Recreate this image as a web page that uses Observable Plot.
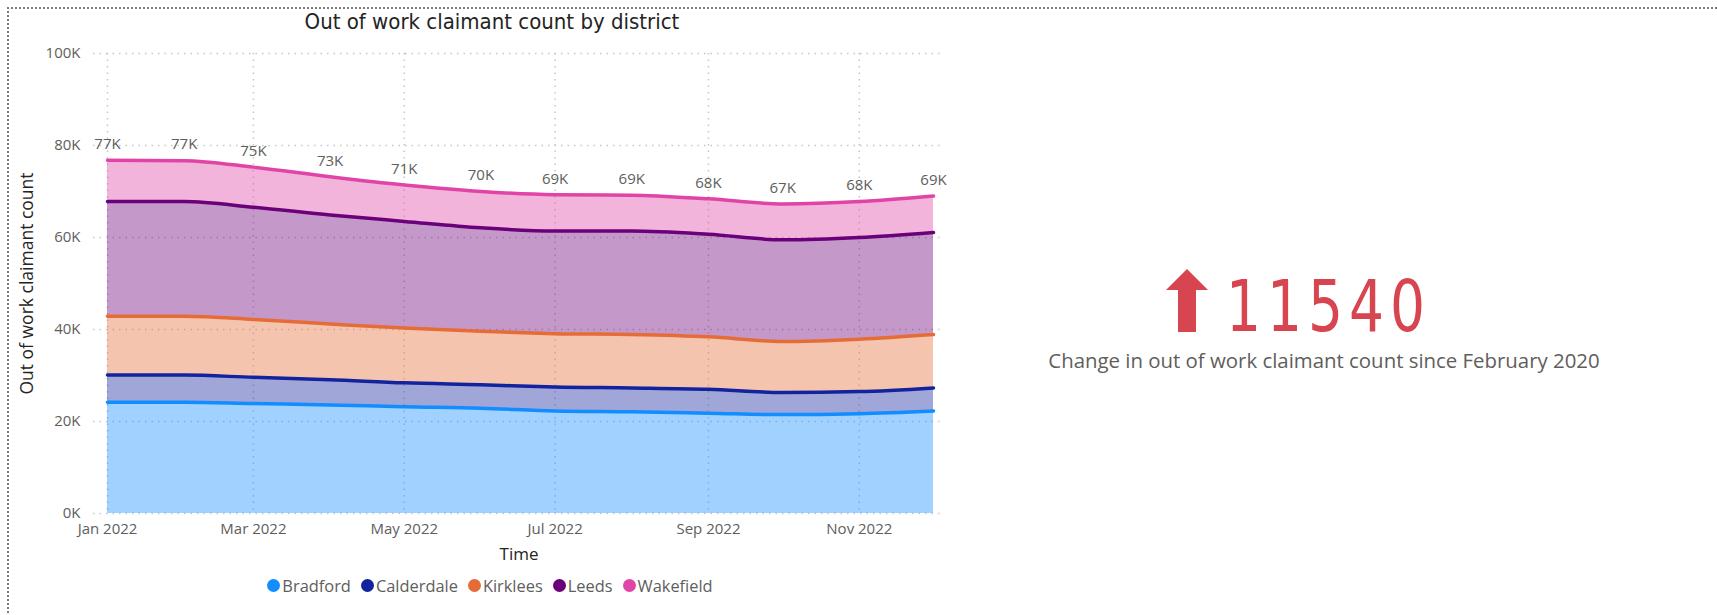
<!DOCTYPE html>
<html>
<head>
<meta charset="utf-8">
<script src="https://cdn.jsdelivr.net/npm/d3@7"></script>
<script src="https://cdn.jsdelivr.net/npm/@observablehq/plot@0.6"></script>
<style>
  html, body { margin: 0; padding: 0; background: #fff; }
  body { width: 1717px; height: 615px; position: relative; overflow: hidden; font-family: "Open Sans", "Noto Sans", sans-serif; }
  #frame { position: absolute; left: 7px; top: 7px; width: 1740px; height: 640px; border-top: 2px dotted #7a7a7a; border-left: 2px dotted #7a7a7a; }
  #title { position: absolute; left: 0; width: 984px; top: 9px; line-height: 26px; text-align: center; font-family: "Liberation Sans Narrow", "DejaVu Sans Condensed", sans-serif; font-size: 22px; color: #252423; }
  #chart { position: absolute; left: 0; top: 30px; }
  #legend { position: absolute; left: 0; width: 980px; top: 574px; display: flex; justify-content: center; align-items: center; font-size: 16.4px; color: #605E5C; }
  #legend .item { display: flex; align-items: center; margin: 0 5px; }
  #legend .dot { width: 13px; height: 13px; border-radius: 50%; margin-right: 2px; }
  #kpi-arrow { position: absolute; left: 1166px; top: 269px; }
  #kpi-value { position: absolute; left: 1226px; top: 268px; font-family: "Liberation Sans Narrow", "DejaVu Sans Condensed", sans-serif; font-size: 72px; line-height: 77px; letter-spacing: 7px; color: #D64550; transform: scaleX(0.85); transform-origin: left center; }
  #kpi-label { position: absolute; left: 974px; width: 700px; top: 348px; text-align: center; font-size: 20.4px; line-height: 24px; color: #605E5C; }
</style>
</head>
<body>
<div id="frame"></div>
<div id="title"></div>
<div id="chart"></div>
<div id="legend"></div>
<svg id="kpi-arrow" width="42" height="63" viewBox="0 0 42 63"><polygon points="21,0 42,21 30,21 30,63 12,63 12,21 0,21" fill="#D64550"/></svg>
<div id="kpi-value"></div>
<div id="kpi-label"></div>
<script>
// ---- data ----
const chartTitle = "Out of work claimant count by district";
const months = ["2022-01-01","2022-02-01","2022-03-01","2022-04-01","2022-05-01","2022-06-01",
                "2022-07-01","2022-08-01","2022-09-01","2022-10-01","2022-11-01","2022-12-01"];
const districts = ["Bradford","Calderdale","Kirklees","Leeds","Wakefield"];
const districtColors = ["#118DFF","#12239E","#E66C37","#6B007B","#E044A7"];
const bradford   = [24200,24200,23900,23600,23200,22900,22300,22100,21800,21500,21700,22300];
const calderdale = [ 5900, 5900, 5700, 5500, 5200, 5100, 5200, 5200, 5200, 4800, 4800, 5000];
const kirklees   = [12800,12800,12600,12100,11900,11600,11600,11600,11400,11100,11400,11600];
const leeds      = [24900,24900,24400,23700,23200,22500,22300,22500,22300,22100,22100,22200];
const wakefield  = [ 9000, 8900, 8700, 8300, 7900, 7900, 7900, 7800, 7700, 7800, 7800, 7900];
const yTicks = [0, 20000, 40000, 60000, 80000, 100000];
const xTickMonths = ["2022-01-01","2022-03-01","2022-05-01","2022-07-01","2022-09-01","2022-11-01"];
const xLabel = "Time";
const yLabel = "Out of work claimant count";
const kpiValue = 11540;
const kpiText = "Change in out of work claimant count since February 2020";

// ---- build table ----
const seriesValues = [bradford, calderdale, kirklees, leeds, wakefield];
const dates = months.map(d => new Date(d + "T00:00:00Z"));
const rows = [];
districts.forEach((name, i) => {
  dates.forEach((date, j) => rows.push({date, district: name, value: seriesValues[i][j]}));
});
const totals = dates.map((date, j) => ({date, total: d3.sum(seriesValues, s => s[j])}));
const xTicks = xTickMonths.map(d => new Date(d + "T00:00:00Z"));

const gridStyle = {stroke: "#c8c6c4", strokeOpacity: 1, strokeWidth: 1.5, strokeDasharray: "1.5,5"};

const plot = Plot.plot({
  width: 960,
  height: 545,
  marginLeft: 93,
  marginRight: 16,
  marginTop: 23,
  marginBottom: 62,
  style: {fontFamily: "'Open Sans', 'Noto Sans', sans-serif", color: "#605E5C", background: "transparent"},
  x: {type: "utc", domain: [dates[0], dates[dates.length - 1]], insetLeft: 14, insetRight: 11},
  y: {domain: [0, 100000]},
  color: {domain: districts, range: districtColors},
  marks: [
    Plot.gridY(yTicks, gridStyle),
    Plot.gridX(xTicks, gridStyle),
    Plot.areaY(rows, Plot.stackY({x: "date", y: "value", z: "district", fill: "district", fillOpacity: 0.4, curve: "monotone-x", order: districts})),
    Plot.lineY(rows, Plot.stackY2({x: "date", y: "value", z: "district", stroke: "district", strokeWidth: 3.5, curve: "monotone-x", order: districts})),
    Plot.text(totals, {x: "date", y: "total", text: d => Math.round(d.total / 1000) + "K", dy: -16, fontSize: 15, fill: "#605E5C"}),
    Plot.axisY(yTicks, {tickSize: 0, tickPadding: 13, tickFormat: d => (d / 1000) + "K", fontSize: 15, label: null}),
    Plot.axisX(xTicks, {tickSize: 0, tickPadding: 10, tickFormat: d3.utcFormat("%b %Y"), fontSize: 15, label: null}),
    Plot.text([xLabel], {frameAnchor: "bottom", dy: 46, fontSize: 17, fill: "#252423"}),
    Plot.text([yLabel], {frameAnchor: "left", textAnchor: "middle", dx: -66, rotate: -90, fontSize: 17.5, fill: "#252423"})
  ]
});
document.getElementById("chart").appendChild(plot);
document.getElementById("title").textContent = chartTitle;

const legend = document.getElementById("legend");
districts.forEach((name, i) => {
  const item = document.createElement("div");
  item.className = "item";
  const dot = document.createElement("div");
  dot.className = "dot";
  dot.style.background = districtColors[i];
  const label = document.createElement("span");
  label.textContent = name;
  item.appendChild(dot);
  item.appendChild(label);
  legend.appendChild(item);
});

document.getElementById("kpi-value").textContent = String(kpiValue);
document.getElementById("kpi-label").textContent = kpiText;
</script>
</body>
</html>
